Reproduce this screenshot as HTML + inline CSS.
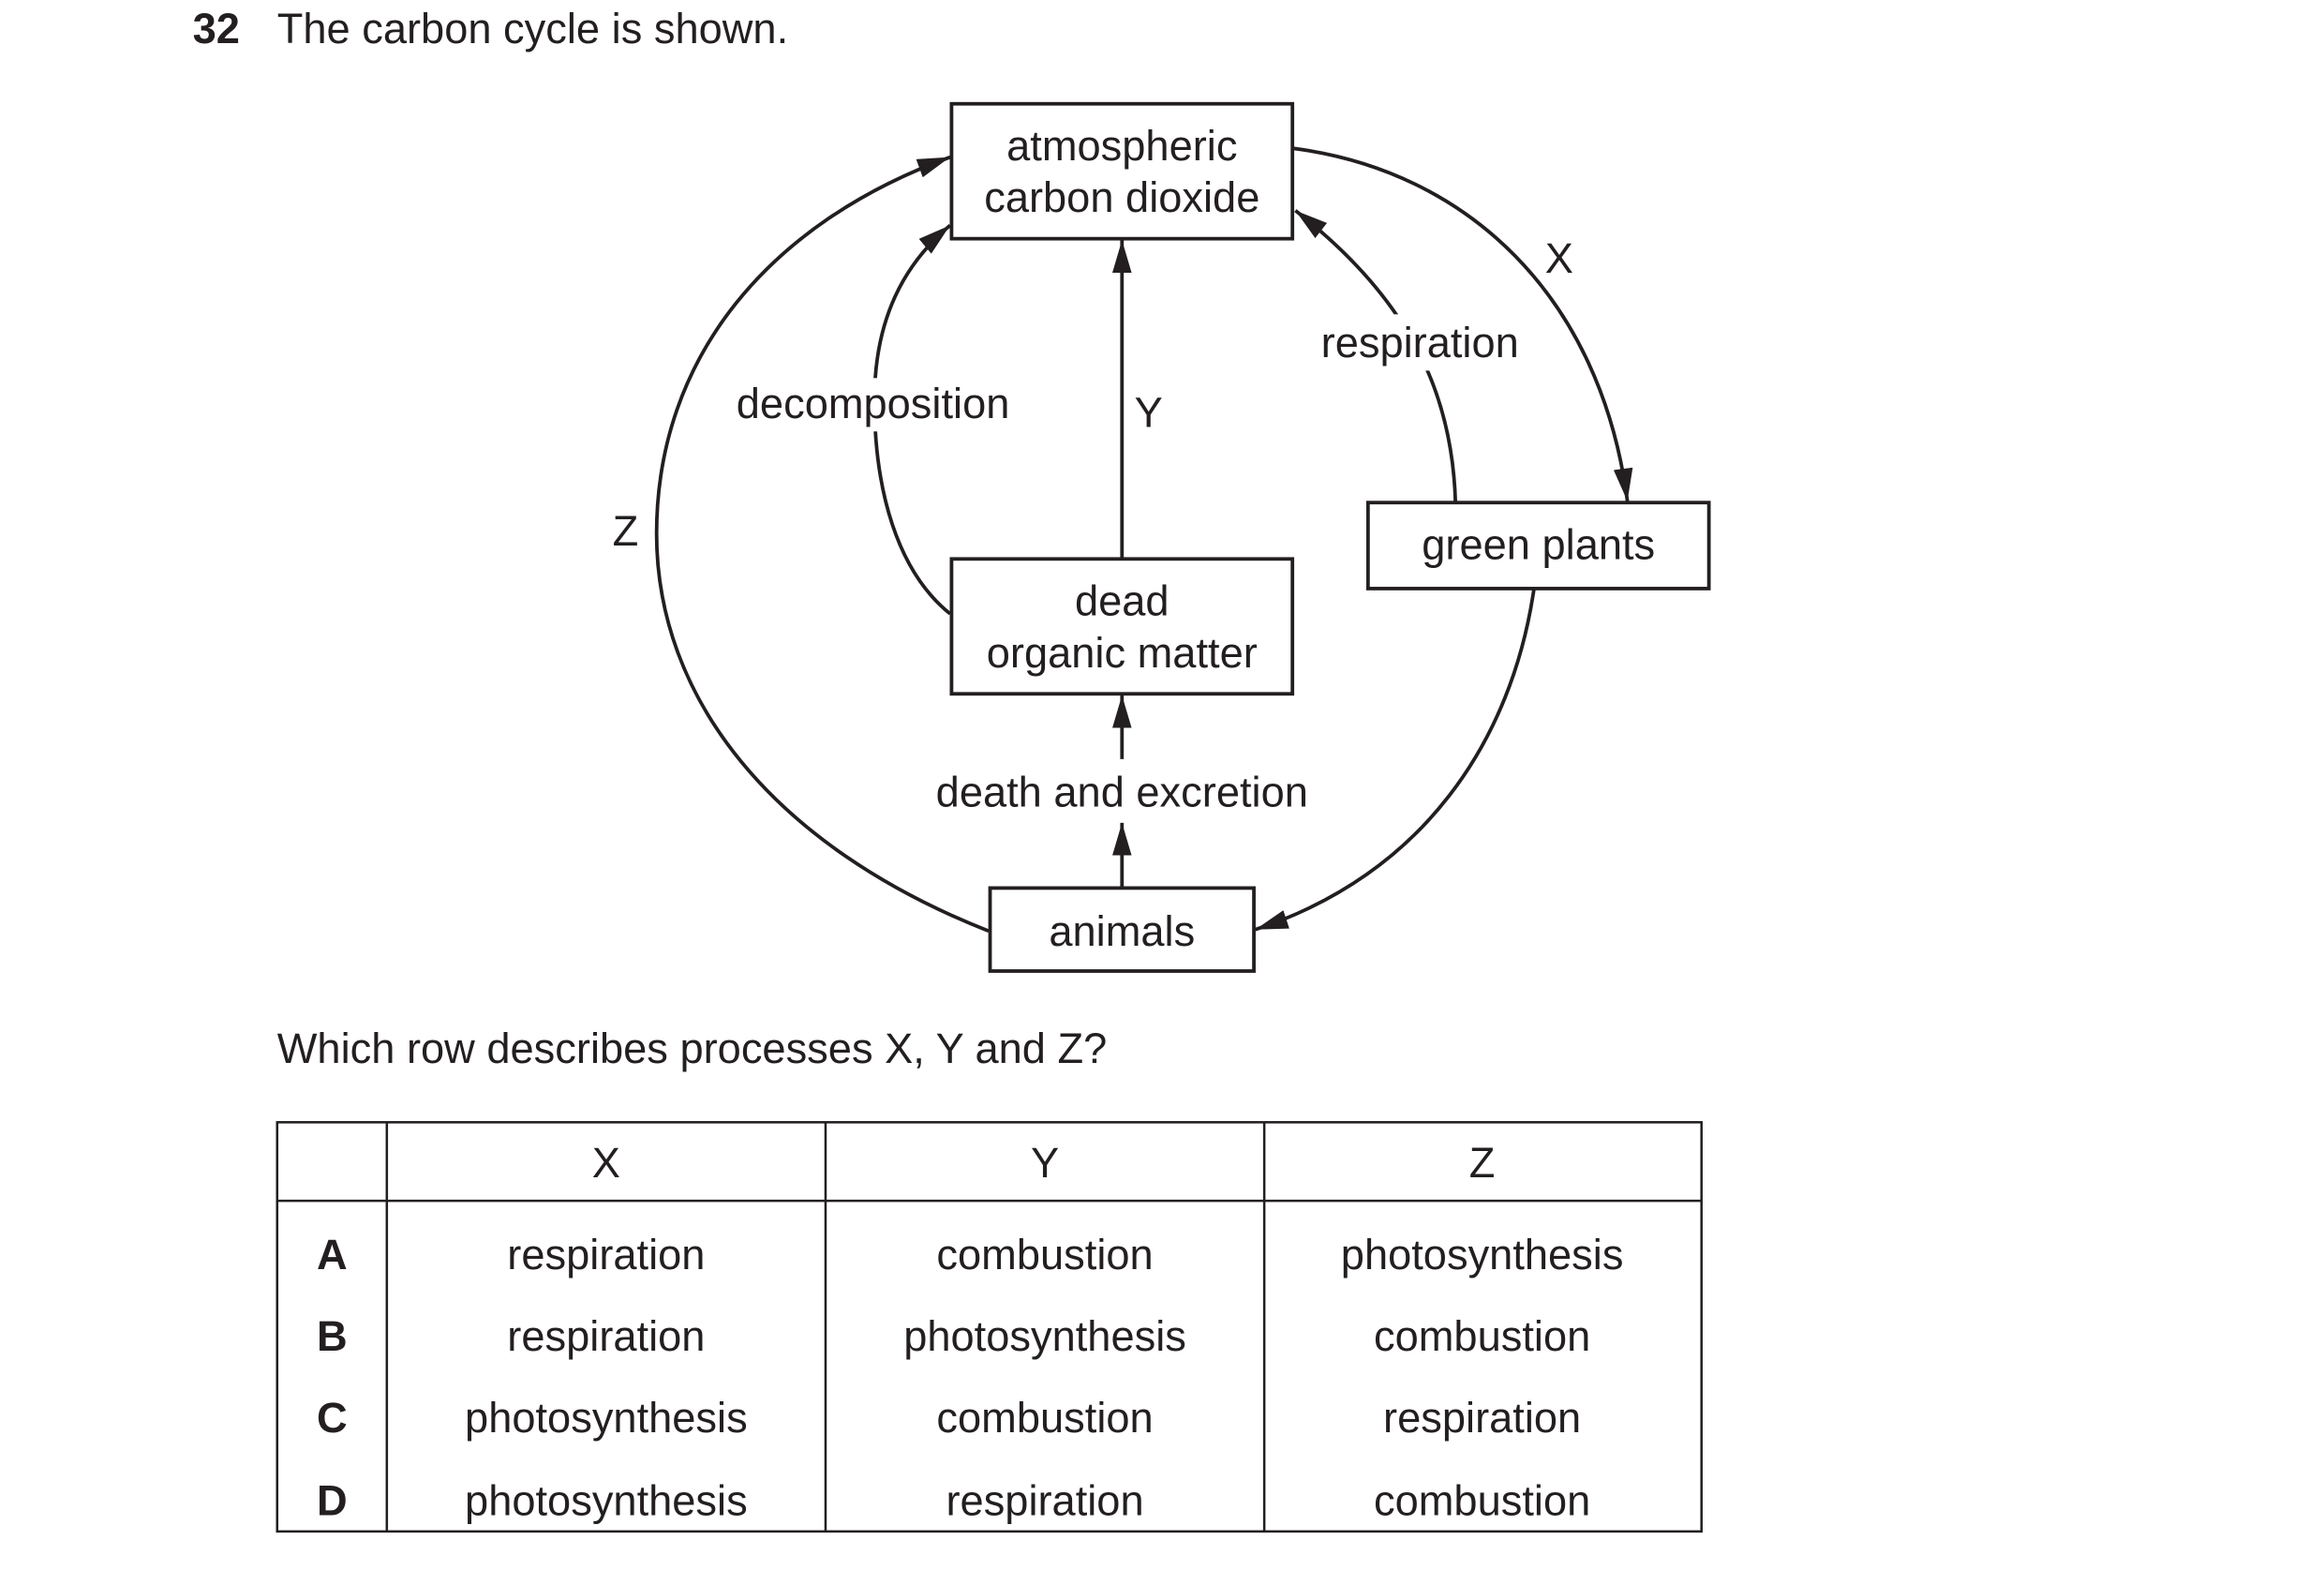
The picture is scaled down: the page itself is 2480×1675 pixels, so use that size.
<!DOCTYPE html>
<html><head><meta charset="utf-8"><style>
html,body{margin:0;padding:0;background:#fff;}
svg{display:block;}
text{font-family:"Liberation Sans",Arial,sans-serif;fill:#231f20;font-size:28.6px;}
</style></head><body>
<svg width="2480" height="1675" viewBox="0 0 1568 1059" xmlns="http://www.w3.org/2000/svg">
<defs>
<marker id="h" viewBox="0 0 22 13" refX="22" refY="6.5" markerWidth="22" markerHeight="13" orient="auto" markerUnits="userSpaceOnUse">
<path d="M0,0 L22,6.5 L0,13 Z" fill="#231f20"/>
</marker>
</defs>
<g fill="none" stroke="#231f20" stroke-width="2.4">
<rect x="642" y="70" width="230" height="91"/>
<rect x="923" y="339" width="230" height="58"/>
<rect x="642" y="377" width="230" height="91"/>
<rect x="668" y="599" width="178" height="56"/>
<line x1="757" y1="377" x2="757" y2="162" marker-end="url(#h)"/>
<line x1="757" y1="599" x2="757" y2="555" marker-end="url(#h)"/>
<line x1="757" y1="512" x2="757" y2="469" marker-end="url(#h)"/>
<path d="M667,628 C520,570 443,470 443,360 C443,240 520,150 641,106" marker-end="url(#h)"/>
<path d="M641,414 C605,385 590,330 590,270 C590,215 610,178 641,152" marker-end="url(#h)"/>
<path d="M872,100 C990,115 1080,200 1098,338" marker-end="url(#h)"/>
<path d="M982,339 C980,270 955,205 874,142" marker-end="url(#h)"/>
<path d="M1035,397 C1020,500 960,590 847,627" marker-end="url(#h)"/>
</g>
<rect x="494" y="255" width="190" height="36" fill="#fff"/>
<rect x="888" y="212" width="140" height="38" fill="#fff"/>
<text x="130" y="29" style="font-weight:bold">32</text>
<text x="187" y="29">The carbon cycle is shown.</text>
<g text-anchor="middle">
<text x="757" y="108">atmospheric</text>
<text x="757" y="143">carbon dioxide</text>
<text x="1038" y="377">green plants</text>
<text x="757" y="415">dead</text>
<text x="757" y="450">organic matter</text>
<text x="757" y="638">animals</text>
<text x="757" y="544">death and excretion</text>
<text x="589" y="282">decomposition</text>
<text x="958" y="241">respiration</text>
<text x="775" y="288">Y</text>
<text x="422" y="368">Z</text>
<text x="1052" y="184">X</text>
</g>
<text x="187" y="717">Which row describes processes X, Y and Z?</text>
<g fill="none" stroke="#231f20" stroke-width="1.6">
<rect x="187" y="757" width="961" height="276"/>
<line x1="187" y1="810" x2="1148" y2="810"/>
<line x1="261" y1="757" x2="261" y2="1033"/>
<line x1="557" y1="757" x2="557" y2="1033"/>
<line x1="853" y1="757" x2="853" y2="1033"/>
</g>
<g text-anchor="middle">
<text x="409" y="794">X</text><text x="705" y="794">Y</text><text x="1000" y="794">Z</text>
<text x="224" y="856" style="font-weight:bold">A</text>
<text x="409" y="856">respiration</text><text x="705" y="856">combustion</text><text x="1000" y="856">photosynthesis</text>
<text x="224" y="911" style="font-weight:bold">B</text>
<text x="409" y="911">respiration</text><text x="705" y="911">photosynthesis</text><text x="1000" y="911">combustion</text>
<text x="224" y="966" style="font-weight:bold">C</text>
<text x="409" y="966">photosynthesis</text><text x="705" y="966">combustion</text><text x="1000" y="966">respiration</text>
<text x="224" y="1022" style="font-weight:bold">D</text>
<text x="409" y="1022">photosynthesis</text><text x="705" y="1022">respiration</text><text x="1000" y="1022">combustion</text>
</g>
</svg>
</body></html>
